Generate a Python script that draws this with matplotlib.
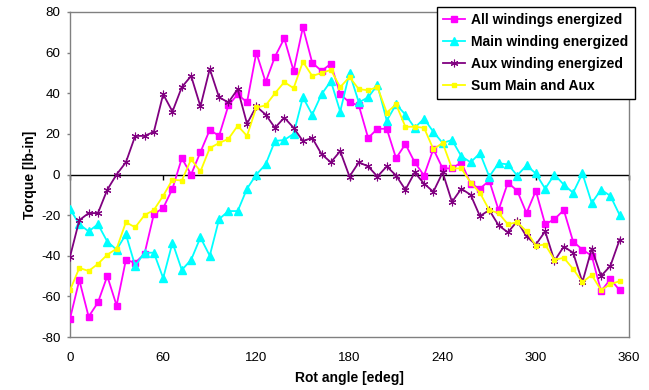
import matplotlib
matplotlib.use("Agg")
import matplotlib.pyplot as plt
import numpy as np

plt.rcParams['font.family'] = ['Liberation Sans', 'DejaVu Sans']
plt.rcParams['axes.unicode_minus'] = False

# Rotor angle in electrical degrees, one sample every 6 degrees
angle = list(range(0, 360, 6))

all_windings = [-71, -52, -70, -63, -50, -64.5, -42, -43.5, -39, -19.5,
                -16.5, -7, 8, 0, 11, 22, 19, 34, 39.5, 35.5,
                60, 45.5, 58, 67, 51, 72.5, 55, 51, 54.5, 39.5,
                35.5, 34, 18, 22.5, 22.5, 8, 15, 6, -0.5, 12.5,
                3, 3, 6, -4.5, -7, -3, -17.5, -4, -8, -19,
                -8, -24.5, -22, -17.5, -33, -37, -40, -57.5, -51.5, -57]

main_winding = [-17, -24.5, -28, -24.5, -33, -37, -29.5, -45, -38.5, -38.5,
                -51, -33.5, -47, -42, -31, -40, -22, -18, -18, -7,
                0, 5, 16.5, 17, 20, 38, 29.5, 39.5, 46, 31,
                50, 35.5, 38, 44, 26.5, 34.5, 29.5, 23, 27.5, 21,
                15.5, 17, 9, 6, 10.5, -1, 5.5, 5, -0.5, 4.5,
                0.5, -7, 0, -5, -9, 0.5, -14, -7.5, -10.5, -20]

aux_winding = [-40.5, -22.5, -19, -19, -7.5, 0, 6, 19, 19, 21,
               39.5, 31, 43, 48.5, 33.5, 52, 38, 35.5, 42, 25,
               33.5, 29.5, 23, 28, 23, 16.5, 18, 10, 6, 11.5,
               -1, 6, 4, -1, 4, -0.5, -7.5, 1, -4.5, -8.5,
               1, -13.5, -7, -10, -20.5, -17.5, -25, -28.5, -23, -30.5,
               -34.5, -28, -42.5, -35.5, -38.5, -53, -36.5, -50, -45, -32]

sum_main_aux = [-57, -46, -47.5, -44, -39.5, -36.5, -23.5, -26, -20, -17.5,
                -10.5, -2.5, -3, 7.5, 1.5, 13, 15.5, 17.5, 24, 19,
                33, 34, 40, 45.5, 42.5, 55.5, 48.5, 50, 51.5, 43,
                48, 42, 41.5, 43, 30.5, 34.5, 23.5, 23.5, 23, 12.5,
                15.5, 3, 3, -4, -9, -17.5, -19, -24.5, -23.5, -28,
                -35, -34.5, -42, -41, -46.5, -53, -49.5, -57, -54, -52.5]

series_labels = ["All windings energized", "Main winding energized",
                 "Aux winding energized", "Sum Main and Aux"]

x_ticks = [0, 60, 120, 180, 240, 300, 360]
y_ticks = [-80, -60, -40, -20, 0, 20, 40, 60, 80]

fig = plt.figure(figsize=(6.49, 3.90), dpi=100)
ax = fig.add_axes([70 / 649, 1 - 337 / 390, 559 / 649, 325 / 390])

lw = 1.3
ax.plot(angle, all_windings, color='#FF00FF', lw=lw, marker='s', ms=4.3,
        label=series_labels[0], zorder=3)
ax.plot(angle, main_winding, color='#00FFFF', lw=lw, marker='^', ms=5.5,
        label=series_labels[1], zorder=4)
ax.plot(angle, aux_winding, color='#800080', lw=lw, marker=(6, 2, 0), ms=5.5,
        mew=0.8, label=series_labels[2], zorder=5)
ax.plot(angle, sum_main_aux, color='#FFFF00', lw=lw, marker='s', ms=2.8,
        label=series_labels[3], zorder=6)

ax.set_xlim(0, 360)
ax.set_ylim(-80, 80)

# Frame in grey, zero line in black
for side in ['top', 'right', 'bottom', 'left']:
    ax.spines[side].set_color('#808080')
    ax.spines[side].set_linewidth(1.0)
ax.axhline(0, color='black', lw=1.0, zorder=2)

ax.set_yticks(y_ticks)
ax.tick_params(axis='y', direction='out', length=2.5, width=1.0,
               color='#808080', pad=4.5, labelsize=9.6)
ax.set_xticks(x_ticks)
ax.tick_params(axis='x', length=0, pad=10.5, labelsize=9.6)

# Tick marks hanging below the zero line
zero_axis = ax.secondary_xaxis(0.5)
zero_axis.set_xticks(x_ticks)
zero_axis.set_xticklabels([])
for side in ['top', 'bottom']:
    zero_axis.spines[side].set_visible(False)
zero_axis.xaxis.set_ticks_position('bottom')
zero_axis.tick_params(axis='x', direction='out', length=3.6, width=1.0,
                      color='black')

ax.set_xlabel("Rot angle [edeg]", fontsize=10, fontweight='bold', labelpad=5)
ax.set_ylabel("Torque [lb-in]", fontsize=10, fontweight='bold', labelpad=2.5)

leg = ax.legend(loc='upper left', bbox_to_anchor=(437 / 649, 1 - 7 / 390),
                bbox_transform=fig.transFigure, frameon=True,
                prop={'size': 10, 'weight': 'bold'},
                fancybox=False, borderaxespad=0, borderpad=0.45,
                handlelength=1.6, handletextpad=0.4, labelspacing=0.56)
leg.get_frame().set_edgecolor('black')
leg.get_frame().set_linewidth(1.0)
leg.get_frame().set_alpha(1.0)

fig.savefig("out.png", dpi=100)
